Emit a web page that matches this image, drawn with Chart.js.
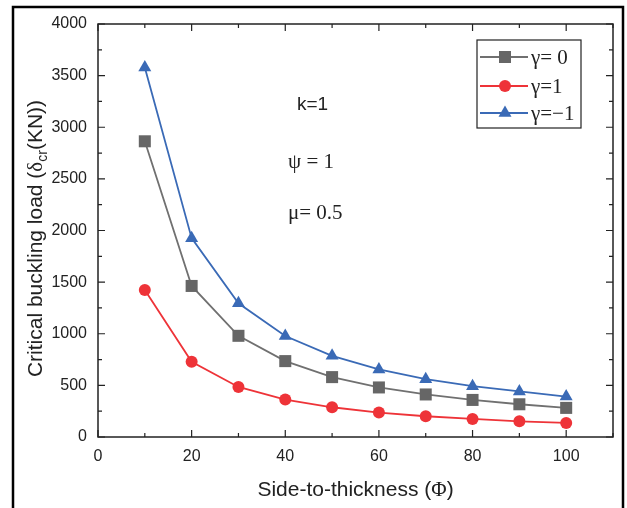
<!DOCTYPE html>
<html>
<head>
<meta charset="utf-8">
<script src="https://cdn.jsdelivr.net/npm/chart.js@4/dist/chart.umd.min.js"></script>
<style>
  html, body { margin: 0; padding: 0; background: #fff; }
  #wrap { width: 627px; height: 508px; position: relative; }
</style>
</head>
<body>
<div id="wrap"><canvas id="buckling" width="627" height="508"></canvas></div>
<script>
// side-to-thickness ratio
const phi = [10, 20, 30, 40, 50, 60, 70, 80, 90, 100];
// critical buckling load
const gamma0 = [2864, 1463, 980, 735, 580, 480, 412, 359, 317, 282];
const gamma1 = [1424, 728, 485, 363, 288, 237, 201, 175, 152, 136];
const gammaNeg1 = [3578, 1926, 1295, 978, 786, 654, 560, 492, 441, 392];

const seriesLabels = ['γ= 0', 'γ=1', 'γ=−1'];
const xTicks = [0, 20, 40, 60, 80, 100];
const yTicks = [0, 500, 1000, 1500, 2000, 2500, 3000, 3500, 4000];
const xMinor = [10, 30, 50, 70, 90, 110];
const yMinor = [250, 750, 1250, 1750, 2250, 2750, 3250, 3750];

const SANS = '"Liberation Sans", Arial, sans-serif';
const SERIF = '"Liberation Serif", "Times New Roman", serif';

const toPoints = ys => phi.map((x, i) => ({ x: x, y: ys[i] }));

const data = {
    datasets: [
        {
            label: seriesLabels[0],
            data: toPoints(gamma0),
            borderColor: '#707070',
            backgroundColor: '#666666',
            pointStyle: 'rect',
            pointRadius: 8.5,
            pointBorderWidth: 0,
            borderWidth: 1.8
        },
        {
            label: seriesLabels[1],
            data: toPoints(gamma1),
            borderColor: '#ee3338',
            backgroundColor: '#ee3338',
            pointStyle: 'circle',
            pointRadius: 6,
            pointBorderWidth: 0,
            borderWidth: 1.8
        },
        {
            label: seriesLabels[2],
            data: toPoints(gammaNeg1),
            borderColor: '#3a6ab6',
            backgroundColor: '#3a6ab6',
            pointStyle: 'triangle',
            pointRadius: 7.5,
            pointBorderWidth: 0,
            borderWidth: 1.8
        }
    ]
};

// frame, inward ticks, titles, legend and annotations
const decorations = {
    id: 'decorations',
    afterDraw(chart) {
        const ctx = chart.ctx;
        const a = chart.chartArea;
        const xs = chart.scales.x, ys = chart.scales.y;
        ctx.save();

        // outer figure frame (no bottom edge)
        ctx.strokeStyle = '#000';
        ctx.lineWidth = 2.5;
        ctx.beginPath();
        ctx.moveTo(13, 508);
        ctx.lineTo(13, 7);
        ctx.lineTo(623, 7);
        ctx.lineTo(623, 508);
        ctx.stroke();

        // plot box
        ctx.strokeStyle = '#222';
        ctx.lineWidth = 1.5;
        ctx.strokeRect(a.left, a.top, a.right - a.left, a.bottom - a.top);

        // inward ticks on all four sides
        ctx.lineWidth = 1.2;
        ctx.beginPath();
        const xt = (v, len) => {
            const p = xs.getPixelForValue(v);
            ctx.moveTo(p, a.bottom); ctx.lineTo(p, a.bottom - len);
            ctx.moveTo(p, a.top); ctx.lineTo(p, a.top + len);
        };
        const yt = (v, len) => {
            const p = ys.getPixelForValue(v);
            ctx.moveTo(a.left, p); ctx.lineTo(a.left + len, p);
            ctx.moveTo(a.right, p); ctx.lineTo(a.right - len, p);
        };
        xTicks.forEach(v => xt(v, 7));
        xMinor.forEach(v => xt(v, 4));
        yTicks.forEach(v => yt(v, 7));
        yMinor.forEach(v => yt(v, 4));
        ctx.stroke();

        ctx.fillStyle = '#222';
        ctx.textBaseline = 'alphabetic';

        // x title
        const xParts = [
            { t: 'Side-to-thickness (', f: '21px ' + SANS },
            { t: 'Φ', f: '21px ' + SERIF },
            { t: ')', f: '21px ' + SANS }
        ];
        let w = 0;
        xParts.forEach(p => { ctx.font = p.f; w += ctx.measureText(p.t).width; });
        let cx = (a.left + a.right) / 2 - w / 2;
        ctx.textAlign = 'left';
        xParts.forEach(p => { ctx.font = p.f; ctx.fillText(p.t, cx, 496); cx += ctx.measureText(p.t).width; });

        // y title, rotated, with subscript
        const yParts = [
            { t: 'Critical buckling load (', f: '21px ' + SANS, dy: 0 },
            { t: 'δ', f: '21px ' + SERIF, dy: 0 },
            { t: 'cr', f: '14px ' + SANS, dy: 5 },
            { t: '(KN))', f: '21px ' + SANS, dy: 0 }
        ];
        w = 0;
        yParts.forEach(p => { ctx.font = p.f; w += ctx.measureText(p.t).width; });
        ctx.save();
        ctx.translate(42, (a.top + a.bottom) / 2 + 8);
        ctx.rotate(-Math.PI / 2);
        cx = -w / 2;
        yParts.forEach(p => { ctx.font = p.f; ctx.fillText(p.t, cx, p.dy); cx += ctx.measureText(p.t).width; });
        ctx.restore();

        // annotations
        ctx.font = '19px ' + SANS;
        ctx.fillText('k=1', 297, 110);
        ctx.font = '21px ' + SERIF;
        ctx.fillText('ψ = 1', 288, 168);
        ctx.fillText('μ= 0.5', 288, 219);

        // legend
        ctx.strokeStyle = '#222';
        ctx.lineWidth = 1.2;
        ctx.strokeRect(477, 40, 104, 88);
        const rows = [57, 86, 113];
        chart.data.datasets.forEach((ds, i) => {
            const y = rows[i];
            ctx.strokeStyle = ds.borderColor;
            ctx.lineWidth = ds.borderWidth;
            ctx.beginPath();
            ctx.moveTo(480, y); ctx.lineTo(528, y);
            ctx.stroke();
            ctx.fillStyle = ds.backgroundColor;
            ctx.strokeStyle = ds.backgroundColor;
            Chart.helpers.drawPoint(ctx, {
                pointStyle: ds.pointStyle, radius: ds.pointRadius, rotation: 0, borderWidth: 0
            }, 505, y);
            ctx.fillStyle = '#222';
            ctx.font = '21px ' + SERIF;
            ctx.fillText(ds.label, 531, y + 7);
        });

        ctx.restore();
    }
};

const config = {
    type: 'line',
    data: data,
    options: {
        responsive: false,
        animation: false,
        layout: {
            padding: { left: 0, right: 14, top: 24, bottom: 0 }
        },
        plugins: {
            legend: { display: false },
            tooltip: { enabled: false }
        },
        scales: {
            x: {
                type: 'linear',
                min: 0,
                max: 110,
                afterBuildTicks: s => { s.ticks = xTicks.map(v => ({ value: v })); },
                afterFit: s => { s.height = 71; },
                grid: { display: false, drawTicks: false },
                border: { display: false },
                ticks: {
                    padding: 10,
                    color: '#222',
                    font: { family: SANS, size: 16 },
                    callback: v => String(v)
                }
            },
            y: {
                type: 'linear',
                min: 0,
                max: 4000,
                afterBuildTicks: s => { s.ticks = yTicks.map(v => ({ value: v })); },
                afterFit: s => { s.width = 98; },
                grid: { display: false, drawTicks: false },
                border: { display: false },
                ticks: {
                    padding: 11,
                    color: '#222',
                    font: { family: SANS, size: 16 },
                    callback: v => String(v)
                }
            }
        }
    },
    plugins: [decorations]
};

var myChart = new Chart(document.getElementById('buckling'), config);
</script>
</body>
</html>
